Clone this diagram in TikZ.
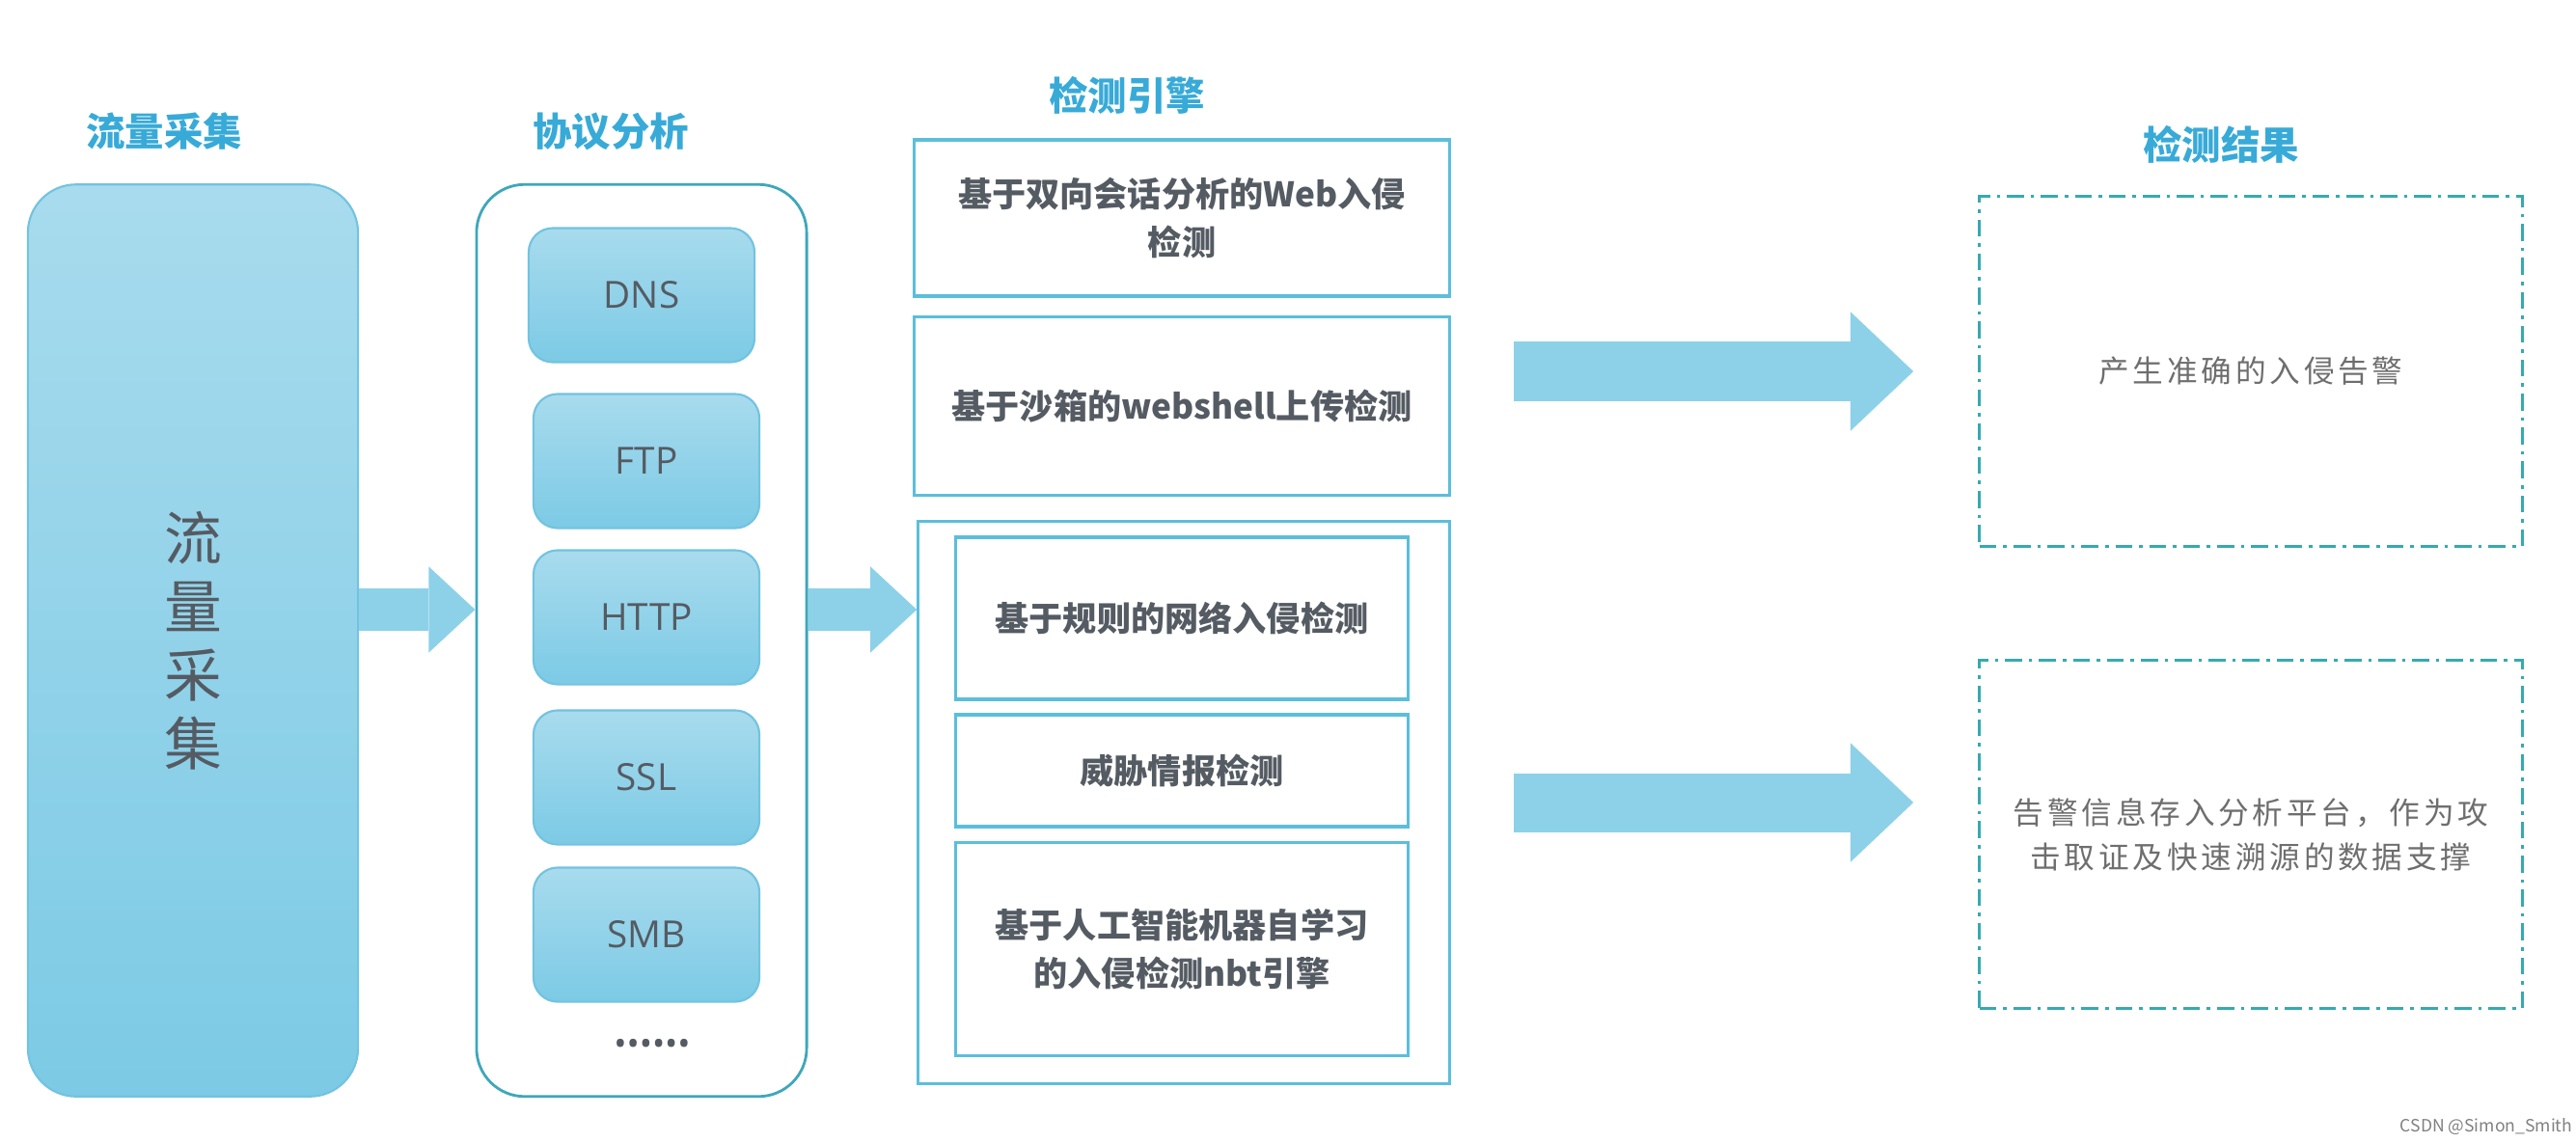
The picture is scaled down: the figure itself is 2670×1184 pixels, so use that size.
\documentclass[tikz,border=0pt]{standalone}
\usepackage{fontspec}
\setmainfont{Noto Sans CJK SC}
\newfontfamily\protofont{Open Sans}
\newfontfamily\resfont[LetterSpace=12]{Noto Sans CJK SC}
\usetikzlibrary{positioning,arrows.meta}
\definecolor{titleblue}{HTML}{38AAD8}
\definecolor{boxtop}{HTML}{A8DBED}
\definecolor{boxbot}{HTML}{7CCAE5}
\definecolor{boxedge}{HTML}{72C3E0}
\definecolor{protoedge}{HTML}{3FA7BA}
\definecolor{engedge}{HTML}{5BBEDC}
\definecolor{resedge}{HTML}{35AAB0}
\definecolor{textgray}{HTML}{555B63}
\definecolor{resgray}{HTML}{6E6E6E}
\definecolor{flowblue}{HTML}{8DD1E8}

\begin{document}
\begin{tikzpicture}[x=0.01cm, y=-0.01cm,
    colTitle/.style={font=\fontsize{11.5}{13}\selectfont\bfseries, text=titleblue, inner sep=0pt},
    bigBox/.style={rectangle, rounded corners=0.5cm, draw=boxedge, top color=boxtop, bottom color=boxbot, line width=0.6pt},
    protoBox/.style={rectangle, rounded corners=0.25cm, draw=boxedge, top color=boxtop, bottom color=boxbot, line width=0.6pt, minimum width=2.34cm, minimum height=1.39cm, font=\protofont\fontsize{11}{13}\selectfont, text=textgray},
    frameBox/.style={rectangle, rounded corners=0.5cm, draw=protoedge, line width=0.8pt, fill=white},
    engBox/.style={rectangle, draw=engedge, line width=0.9pt, align=center, font=\fontsize{10}{14}\selectfont\bfseries, text=textgray},
    resBox/.style={rectangle, draw=resedge, line width=0.9pt, dash pattern=on 5pt off 2pt on 1pt off 2pt, minimum width=5.62cm, align=center, font=\resfont\fontsize{9}{13}\selectfont, text=resgray},
    flowArrow/.style={draw=flowblue, line width=0.44cm, -{Triangle[width=0.89cm, length=0.48cm, line width=0pt]}},
    bigFlow/.style={draw=flowblue, line width=0.61cm, -{Triangle[width=1.23cm, length=0.65cm, line width=0pt]}}
]
    \useasboundingbox (0,0) rectangle (2670,1184);

    \node[colTitle] (collTitle)  at (170, 136)  {流量采集};
    \node[colTitle] (protoTitle) at (633, 136)  {协议分析};
    \node[colTitle] (engTitle)   at (1168, 99)  {检测引擎};
    \node[colTitle] (resTitle)   at (2302, 150) {检测结果};

    \node[bigBox, minimum width=3.42cm, minimum height=9.45cm, align=center, text=textgray, font=\fontsize{17}{20.2}\selectfont] (collBox) at (200, 664) {流\\量\\采\\集};

    \node[frameBox, minimum width=3.42cm, minimum height=9.45cm] (proto) at (665, 664) {};
    \node[protoBox] (dns)  at (665, 306)  {DNS};
    \node[protoBox] (ftp)  at (670, 478)  {FTP};
    \node[protoBox] (http) at (670, 640)  {HTTP};
    \node[protoBox] (ssl)  at (670, 806)  {SSL};
    \node[protoBox] (smb)  at (670, 969)  {SMB};
    \node[text=textgray, font=\protofont\fontsize{10}{12}\selectfont, inner sep=0pt] (more) at (676, 1086) {••••••};

    \node[engBox, minimum width=5.54cm, minimum height=1.62cm] (web)   at (1225, 226) {基于双向会话分析的Web入侵\\检测};
    \node[engBox, minimum width=5.54cm, minimum height=1.85cm] (shell) at (1225, 421) {基于沙箱的webshell上传检测};
    \node[engBox, minimum width=5.50cm, minimum height=5.83cm] (engine) at (1227, 832) {};
    \node[engBox, minimum width=4.68cm, minimum height=1.68cm] (rule)  at (1225, 641) {基于规则的网络入侵检测};
    \node[engBox, minimum width=4.68cm, minimum height=1.16cm] (intel) at (1225, 799) {威胁情报检测};
    \node[engBox, minimum width=4.68cm, minimum height=2.21cm] (ai)    at (1225, 984) {基于人工智能机器自学习\\的入侵检测nbt引擎};

    \node[resBox, minimum height=3.63cm] (res1) at (2333, 385) {产生准确的入侵告警};
    \node[resBox, minimum height=3.61cm] (res2) at (2333, 865) {告警信息存入分析平台，作为攻\\击取证及快速溯源的数据支撑};

    \coordinate (a1) at (0, 632);
    \coordinate (b2) at (0, 832);
    \draw[flowArrow] (collBox.east |- a1) -- (proto.west |- a1);
    \draw[flowArrow] (proto.east |- a1) -- (engine.west |- a1);
    \draw[bigFlow, shorten <=0.65cm, shorten >=0.67cm] (web.east |- res1) -- (res1.west);
    \draw[bigFlow, shorten <=0.65cm, shorten >=0.67cm] (web.east |- b2) -- (res2.west |- b2);

    \node[text=gray, font=\fontsize{5}{6}\selectfont, inner sep=0pt] (mark) at (2577, 1168) {CSDN @Simon\_Smith};
\end{tikzpicture}
\end{document}
